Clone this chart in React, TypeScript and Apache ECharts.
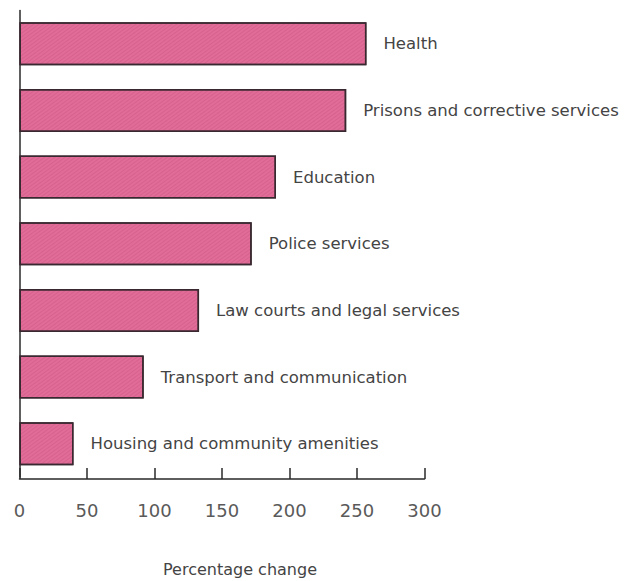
import React, { useEffect, useRef } from "react";
import * as echarts from "echarts";

const categories = [
  "Health",
  "Prisons and corrective services",
  "Education",
  "Police services",
  "Law courts and legal services",
  "Transport and communication",
  "Housing and community amenities",
];
const values = [257, 242, 190, 172, 133, 92, 40];
const xTicks = [0, 50, 100, 150, 200, 250, 300];
const axisName = "Percentage change";

export default function App() {
  const ref = useRef<HTMLDivElement>(null);
  useEffect(() => {
    const chart = echarts.init(ref.current!, null, { renderer: "svg" });
    const font = "'DejaVu Sans', sans-serif";
    chart.setOption({
      animation: false,
      backgroundColor: "#ffffff",
      grid: {
        left: 19.5,
        width: 405,
        top: 10.5,
        height: 466.5,
        containLabel: false,
        outerBoundsMode: "none",
      },
      xAxis: {
        type: "value",
        min: xTicks[0],
        max: xTicks[xTicks.length - 1],
        interval: 50,
        offset: 2,
        splitLine: { show: false },
        axisLine: { show: true, lineStyle: { color: "#2a2a2a", width: 1.5 } },
        axisTick: { show: true, inside: true, length: 11, lineStyle: { color: "#2a2a2a", width: 1.5 } },
        axisLabel: { color: "#5a5a5a", fontSize: 18, fontFamily: font, margin: 22 },
        name: axisName,
        nameLocation: "middle",
        nameGap: 82,
        nameTextStyle: { color: "#444", fontSize: 16, fontFamily: font, padding: [0, 0, 0, 36] },
      },
      yAxis: {
        type: "category",
        data: categories,
        inverse: true,
        axisLine: { show: true, lineStyle: { color: "#2a2a2a", width: 1.5 } },
        axisTick: { show: false },
        axisLabel: { show: false },
        splitLine: { show: false },
      },
      series: [
        {
          type: "bar",
          data: values,
          barWidth: 43,
          itemStyle: {
            color: "#e06c97",
            borderColor: "#3a2830",
            borderWidth: 1.5,
            decal: {
              symbol: "rect",
              color: "rgba(150,40,80,0.15)",
              dashArrayX: [1, 0],
              dashArrayY: [1, 2],
              rotation: -Math.PI / 5,
            },
          },
          label: {
            show: true,
            position: "right",
            distance: 17,
            formatter: (p: any) => p.name,
            color: "#444",
            fontSize: 16.5,
            fontFamily: font,
          },
        },
      ],
    });
    return () => chart.dispose();
  }, []);
  return (
    <div
      ref={ref}
      style={{ position: "fixed", left: 0, top: 0, width: 630, height: 581 }}
    />
  );
}
